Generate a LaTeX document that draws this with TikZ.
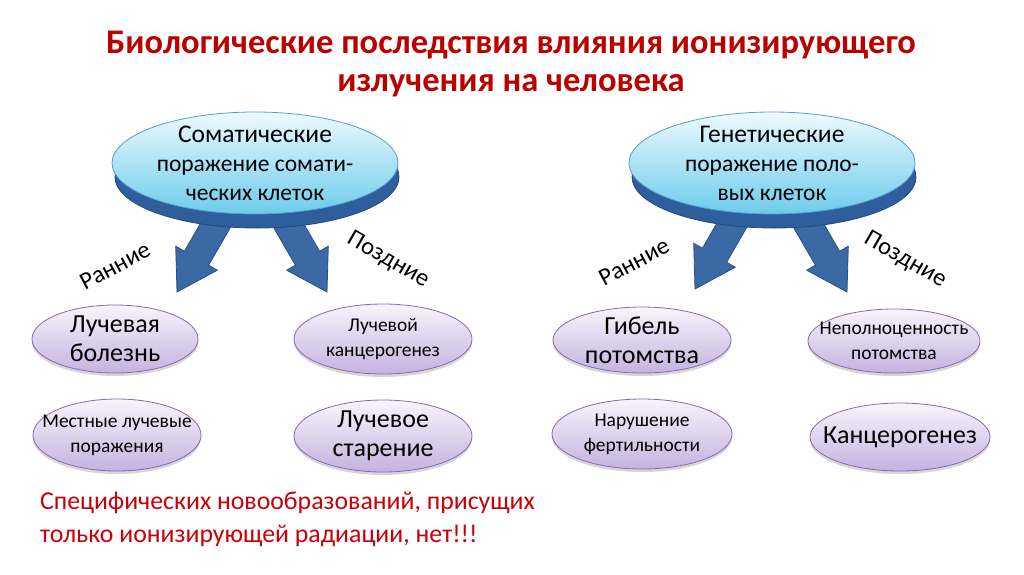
\documentclass[tikz,border=0pt]{standalone}
\usepackage{fontspec}
\setmainfont{Carlito}
\usetikzlibrary{shapes.geometric,shadows}
\definecolor{titlered}{HTML}{BB0000}
\definecolor{textred}{HTML}{C8000A}
\definecolor{lavtop}{HTML}{F8F4FC}
\definecolor{lavbot}{HTML}{C5B2DF}
\definecolor{lavedge}{HTML}{8868B0}
\definecolor{cyantop}{HTML}{EEFAFF}
\definecolor{cyanbot}{HTML}{6CCBEB}
\definecolor{cyanedge}{HTML}{5A9CCF}
\definecolor{thickblue}{HTML}{2F5E9C}
\definecolor{thickedge}{HTML}{24497A}
\definecolor{arrowfill}{HTML}{3B69A5}
\definecolor{arrowedge}{HTML}{2A5182}
\tikzset{
  lav/.style={ellipse, inner sep=0pt, draw=lavedge, line width=0.8pt,
    top color=lavtop, bottom color=lavbot,
    drop shadow={shadow xshift=0pt, shadow yshift=-3pt, opacity=0.16, fill=black}},
  bigtxt/.style={align=center, text=black, inner sep=0pt, font=\fontsize{26}{29}\selectfont},
  smalltxt/.style={align=center, text=black, inner sep=0pt, font=\fontsize{19.5}{25}\selectfont},
  topell/.style={ellipse, inner sep=0pt, draw=cyanedge, line width=0.8pt,
    top color=cyantop, bottom color=cyanbot, minimum width=286pt, minimum height=102pt},
  toptxt/.style={align=center, text=black, inner sep=0pt, font=\fontsize{23.5}{29}\selectfont},
  thickell/.style={ellipse, inner sep=0pt, draw=thickedge, fill=thickblue, line width=0.8pt,
    minimum width=284pt, minimum height=102pt},
  blockarr/.style={fill=arrowfill, draw=arrowedge, line width=0.8pt, line join=miter},
  lbl/.style={font=\fontsize{24.5}{26}\selectfont, inner sep=0pt},
  titletxt/.style={font=\fontsize{34.5}{38}\selectfont\bfseries, text=titlered, inner sep=0pt},
  notetxt/.style={anchor=west, inner sep=0pt, text=textred, font=\fontsize{25.8}{33}\selectfont}
}
\newcommand\myblockarrow[2]{%
  \begin{scope}[shift={(#1)}, rotate=#2]
    \draw[blockarr] (0,0) -- (-24,-39) -- (-14,-39) -- (-14,-115) -- (14,-115) -- (14,-39) -- (24,-39) -- cycle;
  \end{scope}}
\begin{document}
\begin{tikzpicture}[x=1pt,y=-1pt]
\fill[white] (0,0) rectangle (1024,574);
\useasboundingbox (0,0) rectangle (1024,574);

% title
\node[titletxt] (title1) at (511,45) {Биологические последствия влияния ионизирующего};
\node[titletxt] (title2) at (511,86) {излучения на человека};

% block arrows (drawn first, under the ellipses)
\coordinate (tipA) at (177,292);
\coordinate (tipB) at (327,292);
\coordinate (tipC) at (695,289);
\coordinate (tipD) at (847,292);
\myblockarrow{tipA}{-30}
\myblockarrow{tipB}{30}
\myblockarrow{tipC}{-30}
\myblockarrow{tipD}{30}

% top 3D ellipses
\node[thickell] (somb) at (257,177) {};
\node[topell, label={[toptxt]center:{{\fontsize{25.5}{29}\selectfont Соматические}\\поражение сомати-\\ческих клеток}}] (som) at (255,163) {};
\node[thickell] (genb) at (774,177) {};
\node[topell, label={[toptxt]center:{{\fontsize{25.5}{29}\selectfont Генетические}\\поражение поло-\\вых клеток}}] (gen) at (772,163) {};

% labels
\node[lbl, rotate=28] (early1) at (115,266) {Ранние};
\node[lbl, rotate=-30] (late1) at (388,260) {Поздние};
\node[lbl, rotate=28] (early2) at (634,262) {Ранние};
\node[lbl, rotate=-30] (late2) at (905,260) {Поздние};

% lavender ellipses
\node[lav, minimum width=166pt, minimum height=68pt, label={[bigtxt]center:{Лучевая\\болезнь}}] (l1) at (115,339) {};
\node[lav, minimum width=168pt, minimum height=72pt, label={[smalltxt]center:{Местные лучевые\\поражения}}] (l2) at (117,435) {};
\node[lav, minimum width=178pt, minimum height=70pt, label={[smalltxt]center:{Лучевой\\канцерогенез}}] (l3) at (383,339) {};
\node[lav, minimum width=178pt, minimum height=72pt, label={[bigtxt]center:{Лучевое\\старение}}] (l4) at (383,436) {};
\node[lav, minimum width=178pt, minimum height=66pt, label={[bigtxt]center:{Гибель\\потомства}}] (r1) at (642,340) {};
\node[lav, minimum width=172pt, minimum height=64pt, label={[smalltxt]center:{Неполноценность\\потомства}}] (r2) at (894,341) {};
\node[lav, minimum width=180pt, minimum height=70pt, label={[smalltxt]center:{Нарушение\\фертильности}}] (r3) at (642,434) {};
\node[lav, minimum width=180pt, minimum height=68pt, label={[bigtxt]center:{Канцерогенез}}] (r4) at (900,437) {};

% bottom note
\node[notetxt] (note1) at (40,503) {Специфических новообразований, присущих};
\node[notetxt] (note2) at (40,536) {только ионизирующей радиации, нет!!!};
\end{tikzpicture}
\end{document}
